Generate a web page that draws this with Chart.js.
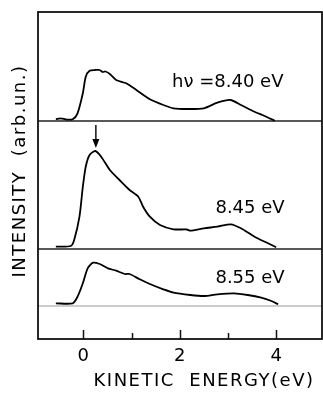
<!DOCTYPE html>
<html lang="en">
<head>
<meta charset="UTF-8">
<meta name="viewport" content="width=device-width, initial-scale=1">
<title>Kinetic energy spectra</title>
<script src="https://cdn.jsdelivr.net/npm/chart.js"></script>
<style>
  body { margin: 0; background: #fff; }
  #wrap { width: 323px; height: 393px; }
</style>
</head>
<body>
<div id="wrap"><canvas id="chart"></canvas></div>
<script>
const energy840 = [-0.57, -0.47, -0.35, -0.22, -0.12, -0.01, 0.05, 0.13, 0.25, 0.34, 0.40, 0.46, 0.55, 0.68, 0.89, 1.10, 1.38, 1.66, 1.87, 2.15, 2.50, 2.78, 3.05, 3.27, 3.55, 3.76, 3.97];
const intensity840 = [0.17, 0.27, 0.15, 0.17, 0.77, 2.77, 4.43, 5.03, 5.10, 5.10, 4.90, 4.95, 4.70, 4.10, 3.77, 3.10, 2.17, 1.60, 1.27, 1.20, 1.27, 1.83, 2.10, 1.60, 0.93, 0.50, 0.03];

const energy845 = [-0.57, -0.26, -0.19, -0.08, -0.01, 0.05, 0.13, 0.25, 0.37, 0.55, 0.75, 0.96, 1.14, 1.24, 1.38, 1.59, 1.87, 2.15, 2.22, 2.50, 2.78, 3.06, 3.27, 3.55, 3.83, 4.00];
const intensity845 = [0.23, 0.30, 0.90, 3.23, 6.23, 8.23, 9.40, 9.80, 9.23, 7.90, 6.90, 5.90, 5.23, 4.23, 3.23, 2.40, 1.97, 1.95, 1.83, 2.07, 2.23, 2.47, 2.07, 1.23, 0.57, 0.17];

const energy855 = [-0.57, -0.22, -0.12, -0.01, 0.09, 0.20, 0.34, 0.51, 0.68, 0.86, 0.96, 1.17, 1.38, 1.66, 1.87, 2.22, 2.50, 2.78, 3.13, 3.41, 3.69, 3.90, 4.04];
const intensity855 = [0.27, 0.27, 0.93, 2.27, 3.77, 4.33, 4.20, 3.77, 3.53, 3.20, 3.20, 2.67, 2.20, 1.67, 1.33, 1.10, 1.00, 1.17, 1.27, 1.10, 0.83, 0.50, 0.17];

// vertical offsets of the three traces
const baseline840 = 21.8;
const baseline845 = 9.0;
const baseline855 = 3.3;

const photonLabels = ["hν =8.40 eV", "8.45 eV", "8.55 eV"];
const xTicks = [0, 1, 2, 3, 4];
const xTickLabels = ["0", "", "2", "", "4"];
const arrowEnergy = 0.26;

const xMin = -0.94, xMax = 4.95;

function trace(xs, ys, base) {
  return xs.map((x, i) => ({ x: x, y: ys[i] + base }));
}
function flat(base) {
  return [{ x: xMin, y: base }, { x: xMax, y: base }];
}

const lineStyle = { borderColor: "#000", borderWidth: 1.8, pointRadius: 0, tension: 0.25, fill: false };

const extras = {
  id: "extras",
  afterDraw(chart) {
    const ctx = chart.ctx;
    const a = chart.chartArea;
    const xs = chart.scales.x, ys = chart.scales.y;
    ctx.save();
    // frame
    ctx.strokeStyle = "#111";
    ctx.lineWidth = 1.8;
    ctx.strokeRect(a.left, a.top, a.right - a.left, a.bottom - a.top);
    // inward ticks
    ctx.lineWidth = 1.5;
    xTicks.forEach((v, i) => {
      const px = Math.round(xs.getPixelForValue(v)) + 0.5;
      const len = xTickLabels[i] ? 9 : 6;
      ctx.beginPath();
      ctx.moveTo(px, a.bottom);
      ctx.lineTo(px, a.bottom - len);
      ctx.stroke();
    });
    // arrow over the 8.45 eV peak
    const ax = xs.getPixelForValue(arrowEnergy);
    const aTop = ys.getPixelForValue(21.4), aTip = ys.getPixelForValue(19.1);
    ctx.lineWidth = 1.5;
    ctx.beginPath();
    ctx.moveTo(ax, aTop);
    ctx.lineTo(ax, aTip - 4);
    ctx.stroke();
    ctx.fillStyle = "#000";
    ctx.beginPath();
    ctx.moveTo(ax - 3.5, aTip - 9);
    ctx.lineTo(ax + 3.5, aTip - 9);
    ctx.lineTo(ax, aTip);
    ctx.closePath();
    ctx.fill();
    // trace labels
    ctx.font = "18px 'DejaVu Sans'";
    ctx.textBaseline = "middle";
    ctx.textAlign = "left";
    ctx.fillText(photonLabels[0], xs.getPixelForValue(1.84), ys.getPixelForValue(25.7));
    ctx.fillText(photonLabels[1], xs.getPixelForValue(2.74), ys.getPixelForValue(13.1));
    ctx.fillText(photonLabels[2], xs.getPixelForValue(2.74), ys.getPixelForValue(6.1));
    // axis titles
    ctx.letterSpacing = "1.5px";
    ctx.textAlign = "center";
    ctx.fillText("KINETIC  ENERGY(eV)", 204, 381);
    ctx.translate(20, 171);
    ctx.rotate(-Math.PI / 2);
    ctx.fillText("INTENSITY  (arb.un.)", 0, 0);
    ctx.restore();
  }
};

new Chart(document.getElementById("chart"), {
  type: "line",
  data: {
    datasets: [
      { ...lineStyle, data: trace(energy840, intensity840, baseline840) },
      { ...lineStyle, data: trace(energy845, intensity845, baseline845) },
      { ...lineStyle, data: trace(energy855, intensity855, baseline855) },
      { data: flat(baseline840), borderColor: "#222", borderWidth: 1.6, pointRadius: 0 },
      { data: flat(baseline845), borderColor: "#222", borderWidth: 1.6, pointRadius: 0 },
      { data: flat(baseline855), borderColor: "#999", borderWidth: 1, pointRadius: 0 }
    ]
  },
  options: {
    responsive: true,
    maintainAspectRatio: false,
    animation: false,
    layout: { padding: { left: 38, right: 1, top: 12, bottom: 0 } },
    plugins: { legend: { display: false }, tooltip: { enabled: false } },
    scales: {
      x: {
        type: "linear",
        min: xMin,
        max: xMax,
        grid: { display: false, drawTicks: false },
        border: { display: false },
        afterBuildTicks: (s) => { s.ticks = xTicks.map(v => ({ value: v })); },
        afterFit: (s) => { s.height = 54; },
        ticks: {
          color: "#000",
          padding: 7,
          font: { family: "DejaVu Sans", size: 18 },
          maxRotation: 0,
          callback: (v) => xTickLabels[xTicks.indexOf(v)]
        }
      },
      y: {
        display: false,
        min: 0,
        max: 32.7
      }
    }
  },
  plugins: [extras]
});
</script>
</body>
</html>
